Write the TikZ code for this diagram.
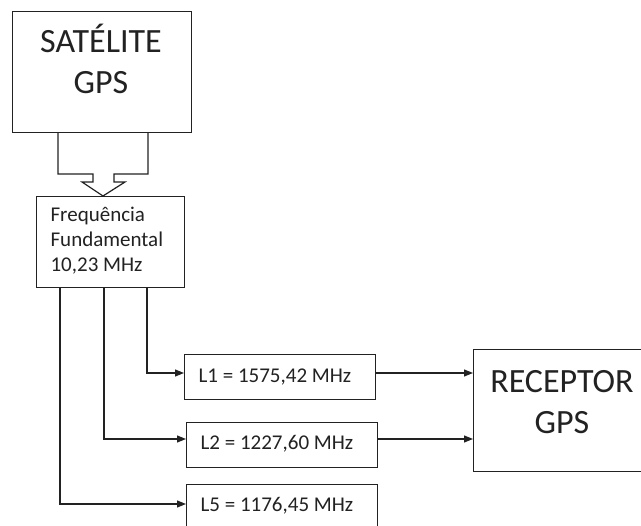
\documentclass[tikz,border=0pt]{standalone}
\usepackage{fontspec}
\setmainfont{Carlito}
\usetikzlibrary{arrows.meta}
\definecolor{ink}{HTML}{222222}
\begin{document}
\begin{tikzpicture}[x=1pt,y=-1pt,
  line width=1.2pt, draw=ink, text=ink,
  box/.style={draw, rectangle, inner sep=0pt, anchor=north west},
  big/.style={font=\fontsize{34}{41}\selectfont, inner sep=0pt, align=center},
  mid/.style={font=\fontsize{21}{25}\selectfont, inner sep=0pt},
  arr/.style={-{Triangle[length=9pt,width=7pt]}}]
\useasboundingbox[fill=white] (0,0) rectangle (641,526);
% boxes
\node[box, minimum width=179pt, minimum height=121pt] (sat) at (12,11) {};
\node[box, minimum width=148pt, minimum height=91pt] (freq) at (36,196) {};
\node[box, minimum width=191pt, minimum height=45pt] (L1) at (184,354) {};
\node[box, minimum width=191pt, minimum height=45pt] (L2) at (186,422) {};
\node[box, minimum width=191pt, minimum height=45pt] (L5) at (186,484) {};
\node[box, minimum width=180pt, minimum height=122pt] (rec) at (473,349) {};
% texts
\node[big, anchor=base] (tsat1) at (101,53) {SATÉLITE};
\node[big, anchor=base] (tsat2) at (101,94) {GPS};
\node[big, anchor=base] (trec1) at (562,393) {RECEPTOR};
\node[big, anchor=base] (trec2) at (562,434) {GPS};
\node[mid, anchor=base west] (tf1) at (50,222) {Frequência};
\node[mid, anchor=base west] (tf2) at (50,247) {Fundamental};
\node[mid, anchor=base west] (tf3) at (50,272) {10,23 MHz};
\node[mid, anchor=base west] (t1) at (198,383) {L1 = 1575,42 MHz};
\node[mid, anchor=base west] (t2) at (200,450) {L2 = 1227,60 MHz};
\node[mid, anchor=base west] (t5) at (200,512) {L5 = 1176,45 MHz};
% hollow block arrow
\draw[line join=miter] (sat.south -| 58,0) -- (58,174) -- (93,174) -- (93,182) -- (82,182)
  -- (freq.north -| 103,0) -- (125,182) -- (114,182) -- (114,174) -- (148,174) -- (sat.south -| 148,0);
% connectors
\coordinate (a1) at (147,373);
\coordinate (a2) at (104,439);
\coordinate (a5) at (60,504);
\draw[arr] (freq.south -| a1) |- (L1.west |- a1);
\draw[arr] (freq.south -| a2) |- (L2.west |- a2);
\draw[arr] (freq.south -| a5) |- (L5.west |- a5);
\draw[arr] (L1.east |- a1) -- (rec.west |- a1);
\draw[arr] (L2.east |- a2) -- (rec.west |- a2);
\end{tikzpicture}
\end{document}
